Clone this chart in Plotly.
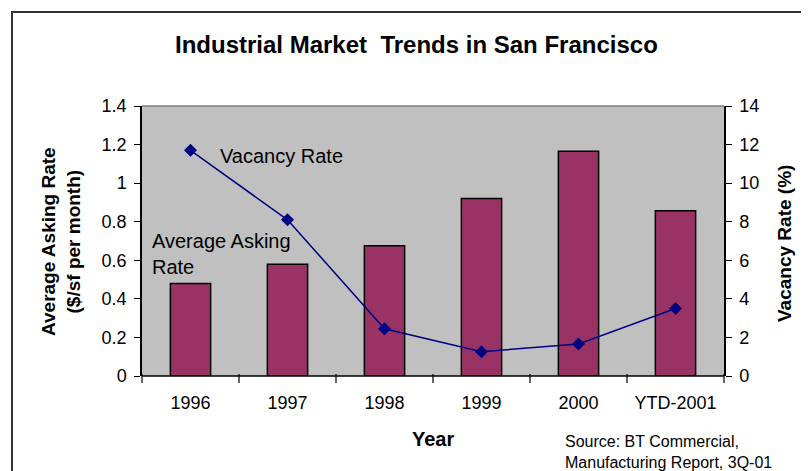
import plotly.graph_objects as go

years = ["1996", "1997", "1998", "1999", "2000", "YTD-2001"]
asking_rate = [0.48, 0.58, 0.675, 0.92, 1.165, 0.857]
vacancy_rate = [11.7, 8.1, 2.45, 1.26, 1.66, 3.5]
left_ticks = [0, 0.2, 0.4, 0.6, 0.8, 1, 1.2, 1.4]
left_tick_text = ["0", "0.2", "0.4", "0.6", "0.8", "1", "1.2", "1.4"]
right_ticks = [0, 2, 4, 6, 8, 10, 12, 14]

OFF = 8  # page body margin
W, H = 809 - OFF, 471 - OFF
# plot area in reference pixel coordinates
L, R, T, B = 142, 724, 106, 376
pw, ph = R - L, B - T

def px(x):
    return (x - L) / pw

def py(y):
    return (B - y) / ph

FONT = "Liberation Sans, Arial, sans-serif"

fig = go.Figure()
fig.add_trace(go.Bar(
    x=years, y=asking_rate, yaxis="y",
    marker=dict(color="#993366", line=dict(color="#000000", width=1.5)),
    showlegend=False,
))
fig.add_trace(go.Scatter(
    x=years, y=vacancy_rate, yaxis="y2", mode="lines+markers",
    line=dict(color="#000080", width=1.5),
    marker=dict(symbol="diamond", size=10, color="#000080"),
    showlegend=False,
))

fig.update_layout(
    width=W, height=H,
    margin=dict(l=L - OFF, r=809 - R, t=T - OFF, b=471 - B, pad=0),
    paper_bgcolor="white",
    plot_bgcolor="#C0C0C0",
    bargap=0.585,
    font=dict(family=FONT, color="#000000", size=18),
    xaxis=dict(
        type="category", showgrid=False, zeroline=False,
        showline=False, ticks="", tickfont=dict(size=18),
        ticklabelstandoff=14,
    ),
    yaxis=dict(
        range=[0, 1.4], tickvals=left_ticks, ticktext=left_tick_text,
        showgrid=False, zeroline=False, showline=True, linecolor="#000000",
        linewidth=1.5, ticks="outside", ticklen=6, tickcolor="#000000",
        tickfont=dict(size=18), ticklabelstandoff=4,
    ),
    yaxis2=dict(
        range=[0, 14], tickvals=right_ticks, overlaying="y", side="right",
        showgrid=False, zeroline=False, showline=True, linecolor="#000000",
        linewidth=1.5, ticks="outside", ticklen=6, tickcolor="#000000",
        tickfont=dict(size=18), ticklabelstandoff=4,
    ),
)

shapes = []
shapes.append(dict(type="line", xref="paper", yref="paper", x0=0, x1=1, y0=1, y1=1,
                   line=dict(color="#808080", width=1.5)))
shapes.append(dict(type="line", xref="paper", yref="paper", x0=0, x1=1, y0=0, y1=0,
                   line=dict(color="#000000", width=1.5)))
for i in range(7):
    xx = i / 6
    shapes.append(dict(type="line", xref="paper", yref="paper", x0=xx, x1=xx,
                       y0=py(B + 7), y1=py(B - 2),
                       line=dict(color="#000000", width=1.2)))
shapes.append(dict(type="rect", xref="paper", yref="paper",
                   x0=px(12), x1=px(830), y0=py(490), y1=py(12),
                   line=dict(color="#333333", width=2)))
fig.update_layout(shapes=shapes)

ann = []
ann.append(dict(text="<b>Industrial Market  Trends in San Francisco</b>", xref="paper", yref="paper",
                x=px(416), y=py(44), showarrow=False, xanchor="center", yanchor="middle",
                font=dict(size=24, family=FONT)))
ann.append(dict(text="<b>Average Asking Rate<br>($/sf per month)</b>", xref="paper", yref="paper",
                x=px(61), y=py(242), showarrow=False, textangle=-90, xanchor="center", yanchor="middle",
                font=dict(size=19, family=FONT)))
ann.append(dict(text="<b>Vacancy Rate (%)</b>", xref="paper", yref="paper",
                x=px(784), y=py(244), showarrow=False, textangle=-90, xanchor="center", yanchor="middle",
                font=dict(size=19, family=FONT)))
ann.append(dict(text="<b>Year</b>", xref="paper", yref="paper",
                x=px(433), y=py(439), showarrow=False, xanchor="center", yanchor="middle",
                font=dict(size=20, family=FONT)))
ann.append(dict(text="Vacancy Rate", xref="paper", yref="paper",
                x=px(218), y=py(156), showarrow=False, xanchor="left", yanchor="middle",
                font=dict(size=20, family=FONT)))
ann.append(dict(text="Average Asking<br>Rate", xref="paper", yref="paper",
                x=px(150), y=py(254), showarrow=False, xanchor="left", yanchor="middle", align="left",
                font=dict(size=20, family=FONT)))
ann.append(dict(text="Source: BT Commercial,<br>Manufacturing Report, 3Q-01", xref="paper", yref="paper",
                x=px(563), y=py(431), showarrow=False, xanchor="left", yanchor="top", align="left",
                font=dict(size=16, family=FONT)))
fig.update_layout(annotations=ann)

fig.write_html("out.html")
